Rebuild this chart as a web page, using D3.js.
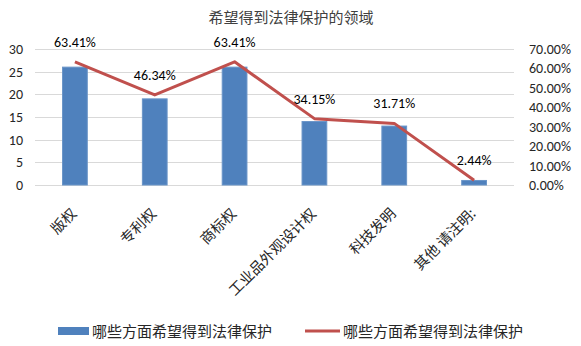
<!DOCTYPE html>
<html><head><meta charset="utf-8">
<script src="https://cdn.jsdelivr.net/npm/d3@7/dist/d3.min.js"></script>
<style>
body{margin:0;background:#fff;}
svg{display:block;}
</style>
</head><body>
<script>
const categories = ["版权","专利权","商标权","工业品外观设计权","科技发明","其他 请注明:"];
const counts = [26,19,26,14,13,1];
const percents = [0.6341,0.4634,0.6341,0.3415,0.3171,0.0244];
const leftTicks = [0,5,10,15,20,25,30];
const rightTicks = [0,0.1,0.2,0.3,0.4,0.5,0.6,0.7];
const title = "希望得到法律保护的领域";
const seriesName = "哪些方面希望得到法律保护";

const W=581,H=346;
const m={top:49,left:35,right:67,bottom:161};
const font = "Carlito,Lato,'Noto Sans CJK SC',sans-serif";
const cjk = "'Noto Sans CJK SC',sans-serif";

const svg=d3.select("body").append("svg").attr("width",W).attr("height",H);
svg.append("rect").attr("width",W).attr("height",H).attr("fill","#fff");

const x=d3.scaleBand().domain(categories).range([m.left,W-m.right]).paddingInner(0.69).paddingOuter(0.345);
const xc=d3.scaleBand().domain(categories).range([m.left,W-m.right]);
const yL=d3.scaleLinear().domain([0,30]).range([H-m.bottom,m.top]);
const yR=d3.scaleLinear().domain([0,0.7]).range([H-m.bottom,m.top]);

// title
svg.append("text").attr("x",261).attr("y",23).attr("text-anchor","middle")
  .attr("font-family",cjk).attr("font-size",15).attr("fill","#404040").attr("x",291).text(title);

// grid
svg.append("g").selectAll("line").data(leftTicks).join("line")
  .attr("x1",m.left).attr("x2",W-m.right)
  .attr("y1",d=>Math.round(yL(d))+0.5).attr("y2",d=>Math.round(yL(d))+0.5)
  .attr("stroke","#D9D9D9").attr("stroke-width",1);

// left axis
const gl=svg.append("g").attr("transform",`translate(${m.left-12},0)`)
  .call(d3.axisLeft(yL).tickValues(leftTicks).tickSize(0).tickPadding(0));
gl.select(".domain").remove();
gl.selectAll("text").attr("font-family",font).attr("font-size",14).attr("fill","#262626");

// right axis
const gr=svg.append("g").attr("transform",`translate(${W-m.right+15},0)`)
  .call(d3.axisRight(yR).tickValues(rightTicks).tickFormat(d3.format(".2%")).tickSize(0).tickPadding(0));
gr.select(".domain").remove();
gr.selectAll("text").attr("font-family",font).attr("font-size",14).attr("fill","#262626");

// bars
svg.append("g").selectAll("rect").data(counts).join("rect")
  .attr("x",(d,i)=>x(categories[i])).attr("width",x.bandwidth())
  .attr("y",d=>yL(d)).attr("height",d=>yL(0)-yL(d))
  .attr("fill","#4F81BD").attr("stroke","#6A95C8").attr("stroke-width",1);

// line
const line=d3.line().x((d,i)=>xc(categories[i])+xc.bandwidth()/2).y(d=>yR(d));
svg.append("path").datum(percents).attr("d",line)
  .attr("fill","none").attr("stroke","#C0504D").attr("stroke-width",3).attr("stroke-linejoin","round");

// data labels
svg.append("g").selectAll("text").data(percents).join("text")
  .attr("x",(d,i)=>xc(categories[i])+xc.bandwidth()/2)
  .attr("y",d=>yR(d)-15)
  .attr("text-anchor","middle").attr("font-family",font).attr("font-size",14).attr("fill","#000")
  .text(d=>d3.format(".2%")(d));

// category labels
svg.append("g").selectAll("text").data(categories).join("text")
  .attr("transform",(d)=>`translate(${xc(d)+xc.bandwidth()/2-1},${H-m.bottom+26}) rotate(-45)`)
  .attr("text-anchor","end").attr("dy","0.35em")
  .attr("font-family",cjk).attr("font-size",14.5).attr("fill","#262626").text(d=>d);

// legend
const lg=svg.append("g");
lg.append("rect").attr("x",58).attr("y",327).attr("width",31).attr("height",8).attr("fill","#4F81BD");
lg.append("text").attr("x",92).attr("y",337).attr("font-family",cjk).attr("font-size",15).attr("fill","#262626").text(seriesName);
lg.append("line").attr("x1",305).attr("x2",340).attr("y1",331).attr("y2",331).attr("stroke","#C0504D").attr("stroke-width",3);
lg.append("text").attr("x",343).attr("y",337).attr("font-family",cjk).attr("font-size",15).attr("fill","#262626").text(seriesName);
</script>
</body></html>
